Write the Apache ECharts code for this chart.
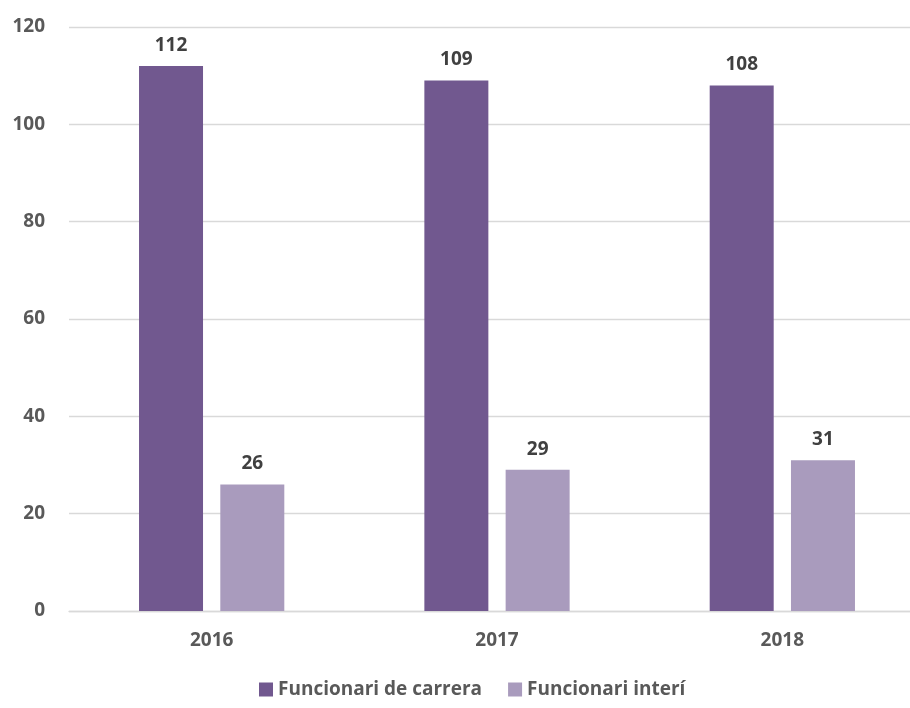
<!DOCTYPE html>
<html>
<head>
<meta charset="utf-8">
<script src="https://cdn.jsdelivr.net/npm/echarts@6/dist/echarts.min.js"></script>
<style>
  html, body { margin: 0; padding: 0; background: #fff; }
  #chart { width: 910px; height: 708px; }
</style>
</head>
<body>
<div id="chart"></div>
<script>
// dades del gràfic
const years = ["2016", "2017", "2018"];
const carrera = [112, 109, 108];
const interi = [26, 29, 31];
const seriesNames = ["Funcionari de carrera", "Funcionari interí"];

const font = "'Open Sans', 'Noto Sans', sans-serif";
const myChart = echarts.init(document.getElementById("chart"));
const option = {
  animation: false,
  color: ["#71588F", "#A99BBD"],
  grid: {
    left: 69,
    top: 27,
    right: -15,
    bottom: 97,
    outerBoundsMode: "none"
  },
  legend: {
    left: 254,
    top: 675,
    itemWidth: 14,
    itemHeight: 14,
    itemGap: 26,
    icon: "rect",
    textStyle: {
      color: "#595959",
      fontSize: 19,
      fontWeight: "bold",
      fontFamily: font
    },
    data: seriesNames
  },
  xAxis: {
    type: "category",
    data: years,
    axisLine: { lineStyle: { color: "#D9D9D9", width: 1.3 } },
    axisTick: { show: false },
    axisLabel: {
      margin: 20,
      color: "#595959",
      fontSize: 19,
      fontWeight: "bold",
      fontFamily: font
    }
  },
  yAxis: {
    type: "value",
    min: 0,
    max: 120,
    interval: 20,
    axisLine: { show: false },
    axisTick: { show: false },
    splitLine: { lineStyle: { color: "#D9D9D9", width: 1.3 } },
    axisLabel: {
      margin: 24,
      color: "#595959",
      fontSize: 19,
      fontWeight: "bold",
      fontFamily: font
    }
  },
  series: [
    {
      name: seriesNames[0],
      type: "bar",
      data: carrera,
      barWidth: 64,
      barGap: "27%",
      label: {
        show: true,
        position: "top",
        distance: 11,
        color: "#404040",
        fontSize: 19,
        fontWeight: "bold",
        fontFamily: font
      }
    },
    {
      name: seriesNames[1],
      type: "bar",
      data: interi,
      barWidth: 64,
      barGap: "27%",
      label: {
        show: true,
        position: "top",
        distance: 11,
        color: "#404040",
        fontSize: 19,
        fontWeight: "bold",
        fontFamily: font
      }
    }
  ]
};
myChart.setOption(option);
</script>
</body>
</html>
